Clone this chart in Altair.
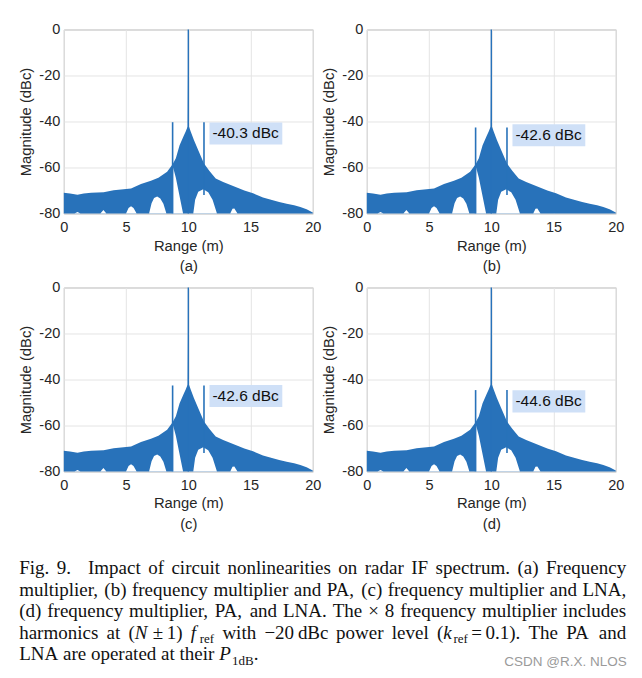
import altair as alt
import pandas as pd

# ---------------- values ----------------
# upper envelope of the (densely oscillating) spectrum, shared by all panels
UP_X = [0.0, 0.5, 1.1, 1.6, 2.2, 3.2, 4.0, 5.4, 6.2, 7.0, 7.6, 8.3, 8.74, 9.0, 9.3, 9.6, 9.8, 9.95,
        9.985, 10.0, 10.015, 10.05, 10.2, 10.45, 10.8, 11.26, 11.7, 12.2, 12.8, 13.6, 14.5, 15.2,
        16.0, 16.5, 17.3, 17.9, 18.5, 19.0, 19.5, 20.0]
UP_Y = [-71.0, -71.3, -71.8, -71.3, -71.0, -70.8, -69.9, -69.1, -67.2, -65.8, -64.5, -61.8, -58.6, -56.0,
        -50.3, -46.6, -44.2, -42.2, -12.0, 0.0, -12.0, -42.2, -44.5, -48.0, -52.5, -58.3, -61.5, -64.8,
        -66.3, -68.0, -70.0, -71.2, -73.0, -73.8, -75.0, -75.8, -76.4, -77.2, -78.2, -79.6]
# lower envelope (white arches under the band)
LO_X = [0.0, 0.86, 1.1, 1.34, 2.94, 3.18, 3.42, 5.0, 5.2, 5.4, 5.6, 5.85, 6.85, 7.05, 7.25, 7.5, 7.75,
        8.0, 8.24, 8.72, 8.78, 9.0, 9.3, 9.58, 10.4, 10.55, 10.8, 11.2, 11.6, 11.95, 12.3, 13.37, 13.55,
        13.7, 13.95, 20.0]
LO_Y = [-80.0, -80.0, -79.3, -80.0, -80.0, -78.5, -80.0, -80.0, -77.6, -76.9, -77.6, -80.0, -80.0, -75.5,
        -73.3, -72.6, -73.5, -75.8, -80.0, -80.0, -60.0, -64.5, -72.5, -80.0, -80.0, -74.0, -70.5, -69.5,
        -70.8, -74.0, -80.0, -80.0, -77.9, -77.8, -80.0, -80.0]
SPUR_X = [8.74, 11.26]
SPUR_END = [-80.0, -72.0]
SPUR_DB = [-40.3, -42.6, -42.6, -44.6]
LABEL_DB = [-45.2, -46.0, -47.2, -49.5]
TAGS = ["(a)", "(b)", "(c)", "(d)"]
PEAK_X = [10.0]
X_TICKS = [0, 5, 10, 15, 20]
Y_TICKS = [-80, -60, -40, -20, 0]

# caption: words; a word is a string or a list of (text, style) pieces
# style: r = roman, i = italic, s = subscript
CAPTION = [
    ["Fig.", "9.\u2002", "Impact", "of", "circuit", "nonlinearities", "on", "radar", "IF",
     "spectrum.", "(a)", "Frequency"],
    ["multiplier,", "(b)", "frequency", "multiplier", "and", "PA,", "(c)", "frequency",
     "multiplier", "and", "LNA,"],
    ["(d)", "frequency", "multiplier,", "PA,", "and", "LNA.", "The", "\u00d7", "8", "frequency",
     "multiplier", "includes"],
    ["harmonics", "at", [("(", "r"), ("N", "i"), ("\u00b1", "r"), ("1)", "r")],
     [("f", "i"), ("ref", "s")], "with", "\u221220\u2009dBc", "power", "level",
     [("(", "r"), ("k", "i"), ("ref", "s"), ("=", "r"), ("0.1).", "r")], "The", "PA", "and"],
    ["LNA", "are", "operated", "at", "their", [("P", "i"), ("1dB", "s"), (".", "r")]],
]
WATERMARK = "CSDN @R.X. NLOS"

# ---------------- styling / layout ----------------
BLUE = "#2872ba"
BOX = "#cfe0f7"
AX_TXT = "#262626"
FRAME = "#a8a8a8"
W, H = 249, 184
GAP_X = 54
ROW_GAP = 4
PAD_LEFT, PAD_TOP = 9.8, 12.5
PLOT_LEFT = 63.3
CAP_OX, CAP_OY = PLOT_LEFT + 0.8, 538.0   # page position of the caption block origin


def panel(i):
    xs = alt.Scale(domain=[0, 20], nice=False, zero=False)
    ys = alt.Scale(domain=[-80, 0], nice=False, zero=False)
    xax = alt.Axis(values=X_TICKS, title=["Range (m)", TAGS[i]], labelPadding=7, titlePadding=4,
                   titleLineHeight=21, grid=True, labelFlush=False)
    yax = alt.Axis(values=Y_TICKS, title="Magnitude (dBc)", labelExpr="'' + datum.value",
                   labelPadding=4, titlePadding=5, grid=True, labelFlush=False)

    def X(f):
        return alt.X(f, type="quantitative", scale=xs, axis=xax)

    def Y(f):
        return alt.Y(f, type="quantitative", scale=ys, axis=yax)

    up = alt.Chart(pd.DataFrame({"x": UP_X, "y": UP_Y})).mark_area(
        color=BLUE, opacity=1).encode(x=X("x"), y=Y("y"), y2=alt.datum(-80))
    lo = alt.Chart(pd.DataFrame({"x": LO_X, "y": LO_Y})).mark_area(
        color="white", opacity=1).encode(x=X("x"), y=Y("y"), y2=alt.datum(-80))
    spur_df = pd.DataFrame({"x": SPUR_X, "top": [SPUR_DB[i]] * 2, "bot": SPUR_END})
    spurs = alt.Chart(spur_df).mark_rule(color=BLUE, strokeWidth=1.6).encode(
        x=X("x"), y=Y("top"), y2="bot:Q")
    peak_df = pd.DataFrame({"x": PEAK_X, "top": [0.0], "bot": [-80.0]})
    peak = alt.Chart(peak_df).mark_rule(color=BLUE, strokeWidth=1.4).encode(
        x=X("x"), y=Y("top"), y2="bot:Q")
    lab_df = pd.DataFrame({"x1": [11.7], "x2": [17.55], "yc": [LABEL_DB[i]],
                           "t": [f"{SPUR_DB[i]} dBc"]})
    box = alt.Chart(lab_df).transform_calculate(
        ya="datum.yc + 4.8", yb="datum.yc - 4.8").mark_rect(color=BOX).encode(
        x=X("x1"), x2="x2:Q", y=Y("ya"), y2="yb:Q")
    txt = alt.Chart(lab_df).mark_text(align="left", baseline="middle", dx=3, font="Liberation Sans",
                                      fontSize=15.5, color="#111111").encode(
        x=X("x1"), y=Y("yc"), text="t:N")
    return alt.layer(up, lo, spurs, peak, box, txt).properties(
        width=W, height=H, view=alt.ViewBackground(stroke=FRAME, strokeWidth=1))


# ---------------- caption layout (Times metrics, justified) ----------------
TM = {' ': 250, '(': 333, ')': 333, ',': 250, '-': 333, '.': 250, '=': 564, '\u00b1': 564,
      '\u2212': 564, '\u00d7': 564, '\u2009': 167, '\u2002': 500,
      'A': 722, 'B': 667, 'C': 667, 'D': 722, 'E': 611, 'F': 556, 'G': 722, 'H': 722, 'I': 333,
      'L': 611, 'M': 889, 'N': 722, 'O': 722, 'P': 556, 'R': 667, 'S': 556, 'T': 611,
      'a': 444, 'b': 500, 'c': 444, 'd': 500, 'e': 444, 'f': 333, 'g': 500, 'h': 500, 'i': 278,
      'j': 278, 'k': 500, 'l': 278, 'm': 778, 'n': 500, 'o': 500, 'p': 500, 'q': 500, 'r': 333,
      's': 389, 't': 278, 'u': 500, 'v': 500, 'w': 722, 'x': 500, 'y': 500, 'z': 444}
TM_IT = {'N': 760, 'P': 680, 'f': 470, 'k': 540}
# small extra room around math pieces (binary operators get thin spaces)
PAD_AFTER = {"N": 180, "\u00b1": 180, "=": 180}
PAD_BEFORE = {"=": 180}
CAP_SIZE, SUB_SIZE = 19.0, 13.0
CAP_LEFT, CAP_RIGHT = 19.5, 626.5
CAP_BASE0, CAP_LEAD = 574.5, 21.6


def piece_width(text, style):
    size = SUB_SIZE if style == "s" else CAP_SIZE
    tab = TM_IT if style == "i" else {}
    w = sum(tab.get(c, TM.get(c, 500)) for c in text)
    w += PAD_AFTER.get(text, 0) + PAD_BEFORE.get(text, 0)
    return w * size / 1000.0


rows = []
for li, line in enumerate(CAPTION):
    words = [[(w, "r")] if isinstance(w, str) else w for w in line]
    widths = [sum(piece_width(t, s) for t, s in w) for w in words]
    space = TM[' '] * CAP_SIZE / 1000.0
    if li < len(CAPTION) - 1:
        space = (CAP_RIGHT - CAP_LEFT - sum(widths)) / (len(words) - 1)
    xpos = CAP_LEFT
    base = CAP_BASE0 + li * CAP_LEAD
    for w, ww in zip(words, widths):
        xx = xpos
        for t, s in w:
            lead = PAD_BEFORE.get(t, 0) * CAP_SIZE / 1000.0
            rows.append({"x": xx + lead - CAP_OX, "y": base + (4.5 if s == "s" else 0) - CAP_OY,
                         "t": t, "s": s})
            xx += piece_width(t, s)
        xpos += ww + space
rows.append({"x": 627 - CAP_OX, "y": 667 - CAP_OY, "t": WATERMARK, "s": "w"})
cap_df = pd.DataFrame(rows)

cx = alt.X("x:Q", scale=None, axis=None)
cy = alt.Y("y:Q", scale=None, axis=None)
base = alt.Chart(cap_df)
cap_layers = [
    base.transform_filter("datum.s == 'r'").mark_text(align="left", baseline="alphabetic",
        font="Liberation Serif", fontSize=CAP_SIZE, color="#111111").encode(x=cx, y=cy, text="t:N"),
    base.transform_filter("datum.s == 'i'").mark_text(align="left", baseline="alphabetic",
        font="Liberation Serif", fontSize=CAP_SIZE, fontStyle="italic", color="#111111").encode(
        x=cx, y=cy, text="t:N"),
    base.transform_filter("datum.s == 's'").mark_text(align="left", baseline="alphabetic",
        font="Liberation Serif", fontSize=SUB_SIZE, color="#111111").encode(x=cx, y=cy, text="t:N"),
    base.transform_filter("datum.s == 'w'").mark_text(align="right", baseline="alphabetic",
        font="Liberation Sans", fontSize=13.5, color="#9a9a9a").encode(x=cx, y=cy, text="t:N"),
]
caption = alt.layer(*cap_layers).properties(
    width=1, height=1, view=alt.ViewBackground(stroke="transparent"))

row1 = alt.hconcat(panel(0), panel(1), spacing=GAP_X, bounds="flush")
row2 = alt.hconcat(panel(2), panel(3), spacing=GAP_X, bounds="flush")
chart = alt.vconcat(row1, row2, caption, spacing=ROW_GAP).properties(
    padding={"left": PAD_LEFT, "top": PAD_TOP, "right": 0, "bottom": 0}, background="white"
).configure_axis(
    labelFont="Liberation Sans", labelFontSize=14.5, labelColor=AX_TXT,
    titleFont="Liberation Sans", titleFontSize=14.8, titleFontWeight="normal", titleColor=AX_TXT,
    gridColor="#e4e4e4", gridWidth=1, domain=False, ticks=False
)

chart.save("out.html", embed_options={"renderer": "svg", "actions": False})
